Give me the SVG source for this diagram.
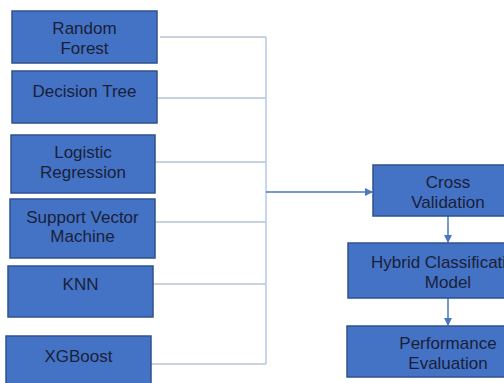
<svg xmlns="http://www.w3.org/2000/svg" width="504" height="383" viewBox="0 0 504 383">
<style>
.box{fill:#4472c4;stroke:#2f528f;stroke-width:1.5}
.t{font-family:"Liberation Sans",Arial,sans-serif;font-size:17px;fill:#1a1f3a;text-anchor:middle}
.c{fill:none;stroke:#b7c4d6;stroke-width:1.5}
.v{fill:none;stroke:#b4c7e7;stroke-width:1.5}
.a{fill:none;stroke:#4a76c6;stroke-width:1.5}
</style>
<defs>
<marker id="ah" markerWidth="8" markerHeight="8" refX="7" refY="4" orient="auto" markerUnits="userSpaceOnUse">
<path d="M0,0 L8,4 L0,8 Z" fill="#4a76c6"/>
</marker>
</defs>
<rect width="504" height="383" fill="#ffffff"/>
<g id="connectors">
<path class="c" d="M160,37 H266"/>
<path class="c" d="M157,98 H266"/>
<path class="c" d="M155,162 H266"/>
<path class="c" d="M155,222 H266"/>
<path class="c" d="M153,284 H266"/>
<path class="c" d="M151,364 H266"/>
<path class="v" d="M266,37 V364"/>
<path class="a" d="M266,192 H372" marker-end="url(#ah)"/>
<path class="a" d="M448,216 V242" marker-end="url(#ah)"/>
<path class="a" d="M448,298 V325" marker-end="url(#ah)"/>
</g>
<g id="random-forest">
<rect class="box" x="12" y="11" width="145" height="52"/>
<text class="t" x="84.5" y="34">Random</text>
<text class="t" x="84.5" y="54">Forest</text>
</g>
<g id="decision-tree">
<rect class="box" x="12" y="71" width="145" height="52"/>
<text class="t" x="84.5" y="97">Decision Tree</text>
</g>
<g id="logistic-regression">
<rect class="box" x="11" y="135" width="144" height="58"/>
<text class="t" x="83" y="158">Logistic</text>
<text class="t" x="83" y="178">Regression</text>
</g>
<g id="svm">
<rect class="box" x="10" y="199" width="145" height="59"/>
<text class="t" x="82.5" y="223">Support Vector</text>
<text class="t" x="82.5" y="242">Machine</text>
</g>
<g id="knn">
<rect class="box" x="8" y="266" width="145" height="51"/>
<text class="t" x="80.5" y="290">KNN</text>
</g>
<g id="xgboost">
<rect class="box" x="6" y="336" width="145" height="52"/>
<text class="t" x="78.5" y="362">XGBoost</text>
</g>
<g id="cross-validation">
<rect class="box" x="373" y="165" width="150" height="51"/>
<text class="t" x="448" y="188">Cross</text>
<text class="t" x="448" y="208">Validation</text>
</g>
<g id="hybrid-model">
<rect class="box" x="348" y="243" width="200" height="55"/>
<text class="t" x="448" y="268">Hybrid Classification</text>
<text class="t" x="448" y="288">Model</text>
</g>
<g id="performance-evaluation">
<rect class="box" x="347" y="326" width="200" height="51"/>
<text class="t" x="448" y="349">Performance</text>
<text class="t" x="448" y="369">Evaluation</text>
</g>
</svg>
